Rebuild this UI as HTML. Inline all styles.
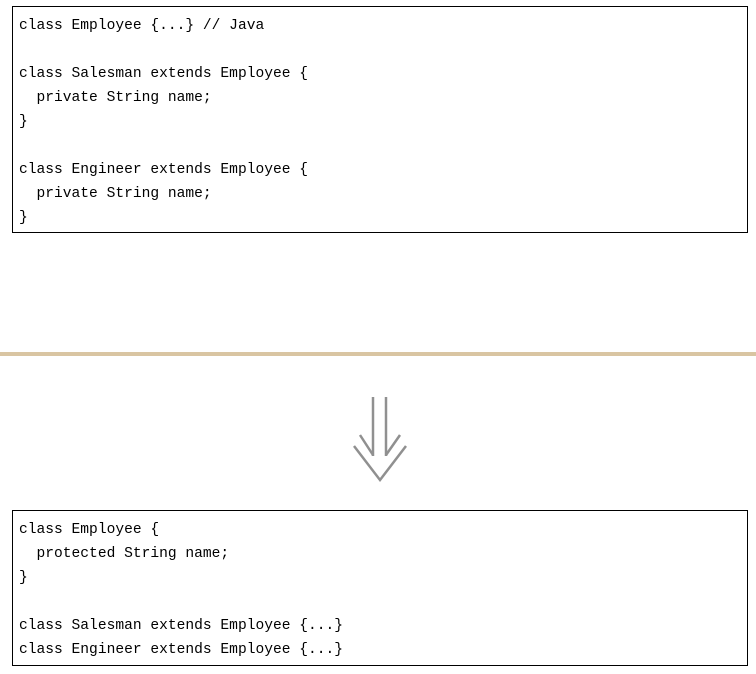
<!DOCTYPE html>
<html><head><style>
body{margin:0;width:756px;height:674px;background:#fff;position:relative;overflow:hidden}
.box{position:absolute;left:12px;width:734px;border:1px solid #000;box-sizing:content-box}
pre{margin:0;padding:0 0 0 6px;font-family:"Liberation Mono",monospace;font-size:14.6px;line-height:24px;color:#000}
.sep{position:absolute;left:0;top:352px;width:756px;height:4px;background:#d9c5a2}
</style></head><body>
<div class="box" style="top:6px;height:225px"><pre style="padding-top:7px">class Employee {...} // Java

class Salesman extends Employee {
  private String name;
}

class Engineer extends Employee {
  private String name;
}</pre></div>
<div class="sep"></div>
<svg style="position:absolute;left:0;top:0" width="756" height="674">
<g stroke="#909090" stroke-width="2.5" fill="none">
<line x1="373" y1="397" x2="373" y2="456"/>
<line x1="386" y1="397" x2="386" y2="456"/>
<line x1="360" y1="435" x2="373" y2="455"/>
<line x1="400" y1="435" x2="386" y2="455"/>
<polyline points="354,446 380,480 406,446"/>
</g></svg>
<div class="box" style="top:510px;height:154px"><pre style="padding-top:7px">class Employee {
  protected String name;
}

class Salesman extends Employee {...}
class Engineer extends Employee {...}</pre></div>
</body></html>
